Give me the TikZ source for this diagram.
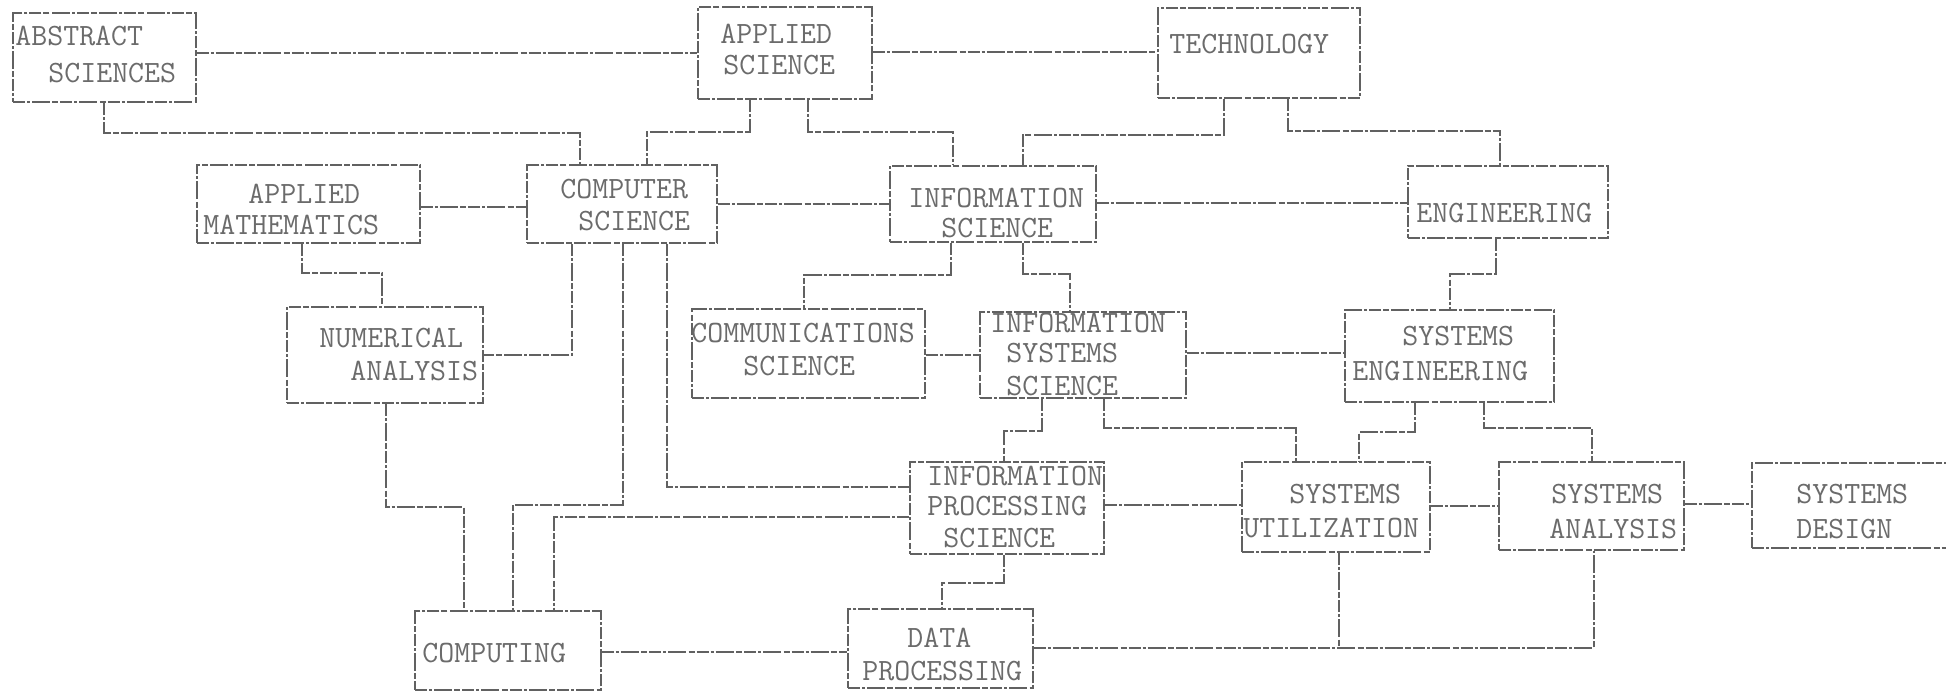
\documentclass[tikz,border=0pt]{standalone}
\usetikzlibrary{fit}
\definecolor{linec}{gray}{0.38}
\definecolor{textc}{gray}{0.42}
\tikzset{
  conn/.style={draw=linec, line width=0.9pt, dash pattern=on 6pt off 1pt on 1.5pt off 1pt on 9pt off 1.2pt on 3pt off 1pt},
  box/.style={conn, inner sep=0pt, rectangle},
  lbl/.style={text=textc, inner sep=0pt, anchor=base west, text height=9.4pt, text depth=0pt, font=\ttfamily\fontsize{15.5}{18}\selectfont},
}
\begin{document}
\begin{tikzpicture}[x=0.5pt,y=-0.5pt]
\fill[white] (0,0) rectangle (1946,692);
\useasboundingbox (0,0) rectangle (1946,692);

% ---------- boxes ----------
\node[box, fit={(13,13) (196,102)}] (abs) {};
\node[box, fit={(698,7) (872,99)}] (apsci) {};
\node[box, fit={(1158,8) (1360,98)}] (tech) {};
\node[box, fit={(197,165) (420,243)}] (amath) {};
\node[box, fit={(527,165) (717,243)}] (cs) {};
\node[box, fit={(890,166) (1096,242)}] (is) {};
\node[box, fit={(1408,166) (1608,238)}] (eng) {};
\node[box, fit={(287,307) (483,403)}] (num) {};
\node[box, fit={(692,309) (925,398)}] (comm) {};
\node[box, fit={(980,312) (1186,398)}] (iss) {};
\node[box, fit={(1345,310) (1554,402)}] (se) {};
\node[box, fit={(910,462) (1104,554)}] (ips) {};
\node[box, fit={(1242,462) (1430,552)}] (su) {};
\node[box, fit={(1499,462) (1684,550)}] (sa) {};
\node[box, fit={(1752,463) (1990,548)}] (sd) {};
\node[box, fit={(415,611) (601,690)}] (cmp) {};
\node[box, fit={(848,609) (1033,688)}] (dp) {};

% ---------- texts ----------
\node[lbl] (t1) at (15,45) {ABSTRACT};
\node[lbl] (t2) at (48,82) {SCIENCES};
\node[lbl] (t3) at (720,43) {APPLIED};
\node[lbl] (t4) at (723,74) {SCIENCE};
\node[lbl] (t5) at (1169,53) {TECHNOLOGY};
\node[lbl] (t6) at (248,203) {APPLIED};
\node[lbl] (t7) at (203,234) {MATHEMATICS};
\node[lbl] (t8) at (560,198) {COMPUTER};
\node[lbl] (t9) at (578,230) {SCIENCE};
\node[lbl] (t10) at (908,207) {INFORMATION};
\node[lbl] (t11) at (941,237) {SCIENCE};
\node[lbl] (t12) at (1416,222) {ENGINEERING};
\node[lbl] (t13) at (319,347) {NUMERICAL};
\node[lbl] (t14) at (350,380) {ANALYSIS};
\node[lbl] (t15) at (691,342) {COMMUNICATIONS};
\node[lbl] (t16) at (743,375) {SCIENCE};
\node[lbl] (t17) at (990,332) {INFORMATION};
\node[lbl] (t18) at (1006,362) {SYSTEMS};
\node[lbl] (t19) at (1006,395) {SCIENCE};
\node[lbl] (t20) at (1402,345) {SYSTEMS};
\node[lbl] (t21) at (1352,380) {ENGINEERING};
\node[lbl] (t22) at (927,485) {INFORMATION};
\node[lbl] (t23) at (927,515) {PROCESSING};
\node[lbl] (t24) at (943,547) {SCIENCE};
\node[lbl] (t25) at (1289,503) {SYSTEMS};
\node[lbl] (t26) at (1243,537) {UTILIZATION};
\node[lbl] (t27) at (1551,503) {SYSTEMS};
\node[lbl] (t28) at (1549,538) {ANALYSIS};
\node[lbl] (t29) at (1796,503) {SYSTEMS};
\node[lbl] (t30) at (1796,538) {DESIGN};
\node[lbl] (t31) at (422,662) {COMPUTING};
\node[lbl] (t32) at (907,647) {DATA};
\node[lbl] (t33) at (862,680) {PROCESSING};

% ---------- bend coordinates ----------
\coordinate (h1) at (0,53);
\coordinate (h2) at (0,52);
\coordinate (h6) at (0,207);
\coordinate (h7) at (0,204);
\coordinate (h8) at (0,203);
\coordinate (h17) at (0,355);
\coordinate (h18) at (0,353);
\coordinate (h24) at (0,505);
\coordinate (h25) at (0,506);
\coordinate (h26) at (0,504);
\coordinate (h28) at (0,652);

\coordinate (k1a) at (104,133);  \coordinate (k1b) at (580,133);
\coordinate (k2a) at (750,132);  \coordinate (k2b) at (647,132);
\coordinate (k3a) at (808,132);  \coordinate (k3b) at (953,132);
\coordinate (k4a) at (1224,135); \coordinate (k4b) at (1023,135);
\coordinate (k5a) at (1288,131); \coordinate (k5b) at (1500,131);
\coordinate (k9a) at (302,273);  \coordinate (k9b) at (382,273);
\coordinate (k10) at (572,355);
\coordinate (k11a) at (623,505); \coordinate (k11b) at (513,505);
\coordinate (k12) at (667,487);
\coordinate (k13a) at (386,507); \coordinate (k13b) at (464,507);
\coordinate (k14) at (554,517);
\coordinate (k15a) at (951,275); \coordinate (k15b) at (804,275);
\coordinate (k16a) at (1023,274);\coordinate (k16b) at (1070,274);
\coordinate (k19a) at (1496,274);\coordinate (k19b) at (1450,274);
\coordinate (k20a) at (1042,431);\coordinate (k20b) at (1004,431);
\coordinate (k21a) at (1104,428);\coordinate (k21b) at (1296,428);
\coordinate (k22a) at (1415,432);\coordinate (k22b) at (1359,432);
\coordinate (k23a) at (1484,428);\coordinate (k23b) at (1592,428);
\coordinate (k27a) at (1004,583);\coordinate (k27b) at (942,583);
\coordinate (k29a) at (1339,648);\coordinate (k29b) at (1594,648);

% ---------- connectors ----------
\draw[conn] (abs.east |- h1) -- (apsci.west |- h1);
\draw[conn] (apsci.east |- h2) -- (tech.west |- h2);
\draw[conn] (abs.south -| k1a) -- (k1a) -- (k1b) -- (k1b |- cs.north);
\draw[conn] (apsci.south -| k2a) -- (k2a) -- (k2b) -- (k2b |- cs.north);
\draw[conn] (apsci.south -| k3a) -- (k3a) -- (k3b) -- (k3b |- is.north);
\draw[conn] (tech.south -| k4a) -- (k4a) -- (k4b) -- (k4b |- is.north);
\draw[conn] (tech.south -| k5a) -- (k5a) -- (k5b) -- (k5b |- eng.north);
\draw[conn] (amath.east |- h6) -- (cs.west |- h6);
\draw[conn] (cs.east |- h7) -- (is.west |- h7);
\draw[conn] (is.east |- h8) -- (eng.west |- h8);
\draw[conn] (amath.south -| k9a) -- (k9a) -- (k9b) -- (k9b |- num.north);
\draw[conn] (cs.south -| k10) -- (k10) -- (num.east |- k10);
\draw[conn] (cs.south -| k11a) -- (k11a) -- (k11b) -- (k11b |- cmp.north);
\draw[conn] (cs.south -| k12) -- (k12) -- (ips.west |- k12);
\draw[conn] (num.south -| k13a) -- (k13a) -- (k13b) -- (k13b |- cmp.north);
\draw[conn] (ips.west |- k14) -- (k14) -- (k14 |- cmp.north);
\draw[conn] (is.south -| k15a) -- (k15a) -- (k15b) -- (k15b |- comm.north);
\draw[conn] (is.south -| k16a) -- (k16a) -- (k16b) -- (k16b |- iss.north);
\draw[conn] (comm.east |- h17) -- (iss.west |- h17);
\draw[conn] (iss.east |- h18) -- (se.west |- h18);
\draw[conn] (eng.south -| k19a) -- (k19a) -- (k19b) -- (k19b |- se.north);
\draw[conn] (iss.south -| k20a) -- (k20a) -- (k20b) -- (k20b |- ips.north);
\draw[conn] (iss.south -| k21a) -- (k21a) -- (k21b) -- (k21b |- su.north);
\draw[conn] (se.south -| k22a) -- (k22a) -- (k22b) -- (k22b |- su.north);
\draw[conn] (se.south -| k23a) -- (k23a) -- (k23b) -- (k23b |- sa.north);
\draw[conn] (ips.east |- h24) -- (su.west |- h24);
\draw[conn] (su.east |- h25) -- (sa.west |- h25);
\draw[conn] (sa.east |- h26) -- (sd.west |- h26);
\draw[conn] (ips.south -| k27a) -- (k27a) -- (k27b) -- (k27b |- dp.north);
\draw[conn] (cmp.east |- h28) -- (dp.west |- h28);
\draw[conn] (dp.east |- k29a) -- (k29a) -- (k29b) -- (k29b |- sa.south);
\draw[conn] (su.south -| k29a) -- (k29a);
\end{tikzpicture}
\end{document}
